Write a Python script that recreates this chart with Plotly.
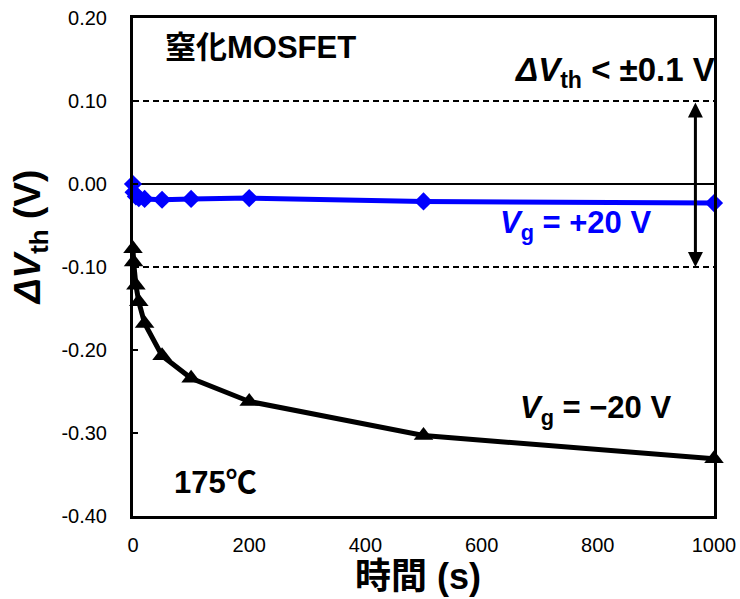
import plotly.graph_objects as go

# Stress time (s)
time_s = [0, 1, 5, 10, 20, 50, 100, 200, 500, 1000]
# Threshold-voltage shift (V) at 175 °C
dvth_pos = [0.000, -0.010, -0.015, -0.017, -0.018, -0.019, -0.018, -0.017, -0.021, -0.023]  # Vg = +20 V
dvth_neg = [-0.078, -0.094, -0.122, -0.142, -0.168, -0.207, -0.234, -0.262, -0.303, -0.331]  # Vg = -20 V

y_ticks = [0.2, 0.1, 0.0, -0.1, -0.2, -0.3, -0.4]
y_ticktext = ["0.20", "0.10", "0.00", "-0.10", "-0.20", "-0.30", "-0.40"]
x_ticks = [0, 200, 400, 600, 800, 1000]
limit = 0.1
arrow_t = 968

TICK_FONT = dict(family="Liberation Sans, Arial, sans-serif", size=20, color="black")
BOLD_FONT = "Liberation Sans, Arial, Noto Sans CJK JP, sans-serif"

fig = go.Figure()

fig.add_trace(go.Scatter(
    x=time_s, y=dvth_pos, mode="lines+markers",
    line=dict(color="#0000FF", width=5),
    marker=dict(symbol="diamond", size=14, color="#0000FF"),
    cliponaxis=False, showlegend=False,
))
fig.add_trace(go.Scatter(
    x=time_s, y=dvth_neg, mode="lines+markers",
    line=dict(color="black", width=5),
    marker=dict(symbol="triangle-up", size=17, color="black"),
    cliponaxis=False, showlegend=False,
))

# ±0.1 V limit lines
for lv in (limit, -limit):
    fig.add_shape(type="line", xref="x", yref="y", x0=0, x1=1000, y0=lv, y1=lv,
                  line=dict(color="black", width=2, dash="6px,4px"), layer="below")

# double-headed arrow spanning the limit band
fig.add_annotation(x=arrow_t, y=-limit, ax=arrow_t, ay=limit, xref="x", yref="y",
                   axref="x", ayref="y", text="", showarrow=True,
                   arrowhead=2, startarrowhead=2, arrowside="end+start",
                   arrowwidth=3, arrowsize=1, startarrowsize=1, arrowcolor="black")

def note(text, x, y, color="black", size=31, angle=0, xanchor="left"):
    fig.add_annotation(text=text, x=x, y=y, xref="paper", yref="paper",
                       xanchor=xanchor, yanchor="middle", showarrow=False,
                       textangle=angle,
                       font=dict(family=BOLD_FONT, size=size, color=color))

note("<b>窒化MOSFET</b>", 0.052, 0.94, size=31)
note("<b><i>ΔV</i><sub>th</sub> &lt; ±0.1 V</b>", 0.652, 0.892, size=33)
note("<b><i>V</i><sub>g</sub> = +20 V</b>", 0.628, 0.584, color="#0000FF")
note("<b><i>V</i><sub>g</sub> = −20 V</b>", 0.662, 0.213)
note("<b>175℃</b>", 0.067, 0.068)

# axis titles
note("<b><i>ΔV</i><sub>th</sub> (V)</b>", -0.177, 0.56, size=37, angle=-90, xanchor="center")
note("<b>時間 (s)</b>", 0.49, -0.122, size=36, xanchor="center")

fig.update_xaxes(
    range=[0, 1000], tickvals=x_ticks, tickfont=TICK_FONT, ticks="",
    ticklabelstandoff=9, automargin=False,
    showline=True, mirror=True, linecolor="black", linewidth=3,
    showgrid=False, zeroline=False,
)
fig.update_yaxes(
    range=[-0.4, 0.2], tickvals=y_ticks, ticktext=y_ticktext, tickfont=TICK_FONT,
    ticks="inside", ticklen=5, tickwidth=2, tickcolor="black",
    ticklabelstandoff=19, automargin=False,
    showline=True, mirror=True, linecolor="black", linewidth=3,
    showgrid=False, zeroline=True, zerolinecolor="black", zerolinewidth=2,
)

fig.update_layout(
    width=740, height=599,
    margin=dict(l=133, r=26, t=18, b=83),
    paper_bgcolor="white", plot_bgcolor="white",
)

fig.write_html("out.html")
